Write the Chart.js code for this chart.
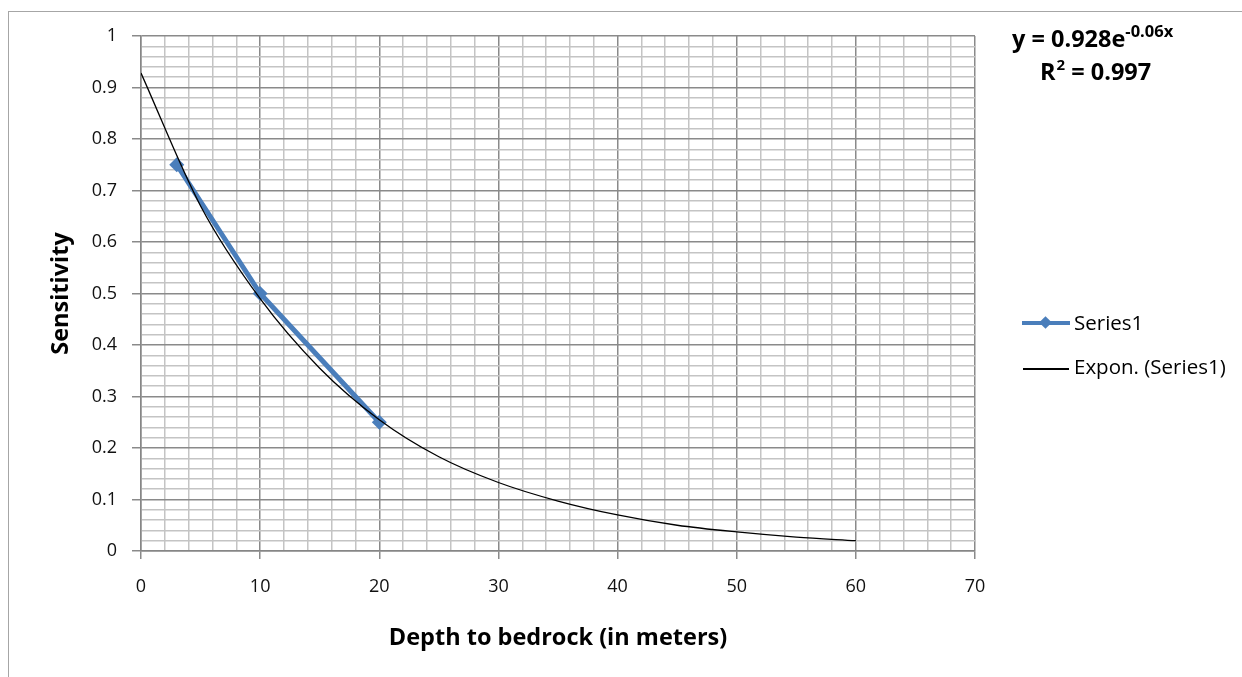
<!DOCTYPE html>
<html>
<head>
<meta charset="utf-8">
<script src="https://cdn.jsdelivr.net/npm/chart.js@4.4.1/dist/chart.umd.min.js"></script>
<style>
  html, body { margin: 0; padding: 0; background: #fff; }
  #wrap { position: relative; width: 1242px; height: 677px; overflow: hidden; font-family: "Open Sans", sans-serif; }
  #frame { position: absolute; left: 8px; top: 11px; width: 1300px; height: 800px; border: 1.5px solid #a6a6a6; box-sizing: border-box; }
  canvas { position: absolute; left: 0; top: 0; }
  .eq { position: absolute; font-weight: bold; font-size: 23.5px; color: #000; white-space: nowrap; line-height: 1; }
  .eq sup { font-size: 16.5px; vertical-align: 0; position: relative; top: -10px; }
  .eq sup.r { font-size: 15px; margin-left: 1px; }
  .leg { position: absolute; font-size: 20.5px; color: #000; white-space: nowrap; line-height: 1; }
  .lline { position: absolute; }
</style>
</head>
<body>
<div id="wrap">
  <div id="frame"></div>
  <canvas id="c" width="1242" height="677"></canvas>
  <div class="eq" style="left:1012px; top:27px;">y = 0.928e<sup>-0.06x</sup></div>
  <div class="eq" style="left:1040px; top:60px;">R<sup class="r">2</sup> = 0.997</div>
  <div class="lline" style="left:1022px; top:321px; width:48px; height:4px; background:#4a7ebb;"></div>
  <div class="lline" style="left:1041px; top:318px; width:9px; height:9px; background:#4a7ebb; transform:rotate(45deg);"></div>
  <div class="leg" style="left:1074px; top:312px;">Series1</div>
  <div class="lline" style="left:1023px; top:368px; width:46px; height:1.5px; background:#000;"></div>
  <div class="leg" style="left:1074px; top:356px;">Expon. (Series1)</div>
</div>
<script>
// Series1 measured points
const seriesX = [3, 10, 20];
const seriesY = [0.75, 0.5, 0.25];
// Exponential trendline, values
const trendX = [0, 5, 10, 15, 20, 25, 30, 35, 40, 45, 50, 55, 60];
const trendY = [0.928, 0.67, 0.49, 0.355, 0.255, 0.183, 0.133, 0.097, 0.07, 0.05, 0.037, 0.027, 0.02];
// Axis ranges / tick steps
const xMin = 0, xMax = 70, xMajor = 10, xMinor = 2;
const yMin = 0, yMax = 1, yMajor = 0.1, yMinor = 0.02;

const MAJOR = '#8a8a8a', MINOR = '#c4c4c4';
const isMajorX = v => Math.abs(Math.round(v) % xMajor) === 0;
const isMajorY = v => Math.round(v * 100) % Math.round(yMajor * 100) === 0;

new Chart(document.getElementById('c'), {
  type: 'line',
  data: {
    datasets: [
      {
        label: 'Expon. (Series1)',
        data: trendX.map((x, i) => ({ x, y: trendY[i] })),
        borderColor: '#000',
        borderWidth: 1.3,
        pointRadius: 0,
        cubicInterpolationMode: 'monotone',
        order: 0
      },
      {
        label: 'Series1',
        data: seriesX.map((x, i) => ({ x, y: seriesY[i] })),
        borderColor: '#4a7ebb',
        backgroundColor: '#4a7ebb',
        borderWidth: 5,
        pointStyle: 'rectRot',
        pointRadius: 7.5,
        pointBorderWidth: 0,
        tension: 0,
        order: 1
      }
    ]
  },
  options: {
    responsive: false,
    animation: false,
    layout: { padding: { top: 36, right: 267, left: 0, bottom: 0 } },
    plugins: { legend: { display: false }, tooltip: { enabled: false } },
    scales: {
      x: {
        type: 'linear', min: xMin, max: xMax,
        afterFit: s => { s.height = 126; },
        ticks: {
          stepSize: xMinor, autoSkip: false, maxRotation: 0, padding: 17,
          color: '#111', font: { family: 'Open Sans', size: 18 },
          callback: v => isMajorX(v) ? String(Math.round(v)) : ''
        },
        grid: {
          color: c => isMajorX(c.tick.value) ? MAJOR : MINOR,
          lineWidth: 1.5,
          tickLength: 8,
          tickColor: c => isMajorX(c.tick.value) ? MAJOR : 'rgba(0,0,0,0)'
        },
        border: { color: '#868686', width: 1.5 },
        title: {
          display: true, text: 'Depth to bedrock (in meters)', color: '#000',
          font: { family: 'Open Sans', size: 23.5, weight: 'bold' },
          padding: { top: 0, bottom: 25 }
        }
      },
      y: {
        type: 'linear', min: yMin, max: yMax,
        afterFit: s => { s.width = 141; },
        ticks: {
          stepSize: yMinor, autoSkip: false, padding: 15,
          color: '#111', font: { family: 'Open Sans', size: 18 },
          callback: v => isMajorY(v) ? String(Math.round(v * 10) / 10) : ''
        },
        grid: {
          color: c => isMajorY(c.tick.value) ? MAJOR : MINOR,
          lineWidth: 1.5,
          tickLength: 9,
          tickColor: c => isMajorY(c.tick.value) ? MAJOR : 'rgba(0,0,0,0)'
        },
        border: { color: '#868686', width: 1.5 },
        title: {
          display: true, text: 'Sensitivity', color: '#000',
          font: { family: 'Open Sans', size: 23.5, weight: 'bold' },
          padding: { top: 47, bottom: 0 }
        }
      }
    }
  }
});
</script>
</body>
</html>
